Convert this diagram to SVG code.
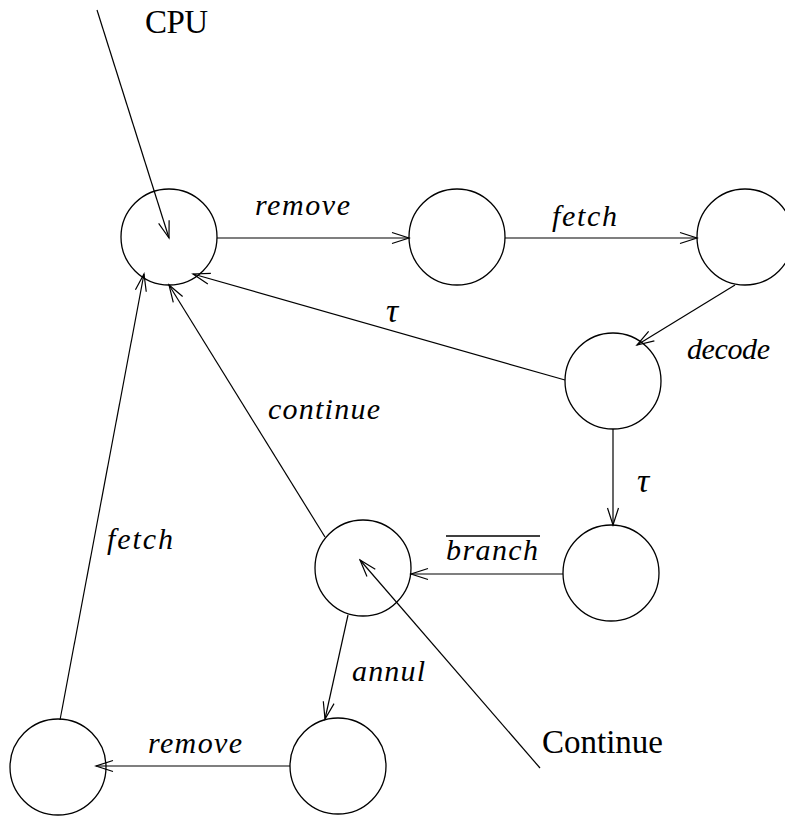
<svg xmlns="http://www.w3.org/2000/svg" width="785" height="828" viewBox="0 0 785 828">
<defs>
<style>
.n{fill:none;stroke:#000;stroke-width:1.3}
.e{fill:none;stroke:#000;stroke-width:1.2;marker-end:url(#ah)}
.lab{font-family:"Liberation Serif","DejaVu Serif",serif;font-style:italic;font-size:30px;fill:#000}
.tau{font-family:"Liberation Serif","DejaVu Serif",serif;font-style:italic;font-size:34px;fill:#000}
.rom{font-family:"Liberation Serif","DejaVu Serif",serif;font-size:33px;fill:#000}
</style>
<marker id="ah" markerUnits="userSpaceOnUse" markerWidth="20" markerHeight="14" viewBox="0 0 20 14" refX="18" refY="7" orient="auto">
<path d="M1,1.5 L18,7 L1,12.5" fill="none" stroke="#000" stroke-width="1.2"/>
</marker>
</defs>
<rect width="785" height="828" fill="#fff"/>
<g id="nodes">
<g id="s1"><circle class="n" cx="169" cy="237" r="48"/></g>
<g id="s2"><circle class="n" cx="457" cy="237" r="48"/></g>
<g id="s3"><circle class="n" cx="745" cy="237" r="48"/></g>
<g id="s4"><circle class="n" cx="613" cy="381" r="48"/></g>
<g id="s5"><circle class="n" cx="611" cy="573" r="48"/></g>
<g id="s6"><circle class="n" cx="363" cy="568" r="48"/></g>
<g id="s7"><circle class="n" cx="338" cy="766" r="48"/></g>
<g id="s8"><circle class="n" cx="58" cy="767" r="48"/></g>
</g>
<g id="connectors">
<line class="e" x1="97" y1="10" x2="169" y2="238"/>
<line class="e" x1="217" y1="238" x2="409" y2="238"/>
<line class="e" x1="505" y1="238" x2="697" y2="238"/>
<line class="e" x1="735" y1="285" x2="637" y2="345"/>
<line class="e" x1="565" y1="380" x2="193" y2="274"/>
<line class="e" x1="613" y1="429" x2="613" y2="525"/>
<line class="e" x1="563" y1="574" x2="411" y2="574"/>
<line class="e" x1="325" y1="537" x2="169" y2="285"/>
<line class="e" x1="540" y1="768" x2="360" y2="560"/>
<line class="e" x1="348" y1="615" x2="325" y2="719"/>
<line class="e" x1="290" y1="766" x2="96" y2="766"/>
<line class="e" x1="60" y1="720" x2="144" y2="274"/>
</g>
<g id="labels">
<text class="rom" x="145" y="33" textLength="63">CPU</text>
<text class="lab" x="255" y="215" textLength="95">remove</text>
<text class="lab" x="552" y="226" textLength="65">fetch</text>
<text class="lab" x="687" y="359" textLength="83">decode</text>
<text class="tau" x="386" y="322">τ</text>
<text class="lab" x="268" y="419" textLength="112">continue</text>
<text class="tau" x="637" y="492">τ</text>
<text class="lab" x="446" y="560" textLength="92">branch</text>
<line x1="446" y1="536" x2="540" y2="536" stroke="#000" stroke-width="1.6"/>
<text class="lab" x="107" y="549" textLength="66">fetch</text>
<text class="lab" x="352" y="681" textLength="73">annul</text>
<text class="lab" x="148" y="753" textLength="94">remove</text>
<text class="rom" x="542" y="753" textLength="121">Continue</text>
</g>
</svg>
